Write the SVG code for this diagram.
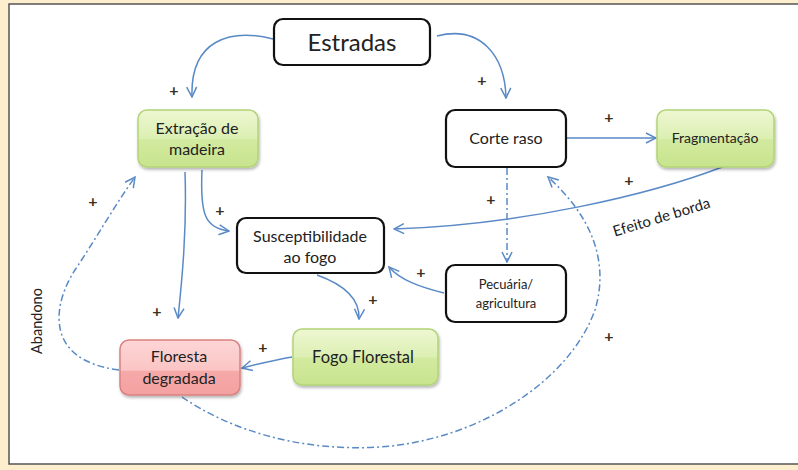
<svg xmlns="http://www.w3.org/2000/svg" width="798" height="470" viewBox="0 0 798 470">
<defs>
<linearGradient id="gGreen" x1="0" y1="0" x2="0" y2="1">
<stop offset="0" stop-color="#eef7d2"/>
<stop offset="0.5" stop-color="#dcefb2"/>
<stop offset="0.52" stop-color="#d2ea9f"/>
<stop offset="1" stop-color="#c8e48e"/>
</linearGradient>
<linearGradient id="gRed" x1="0" y1="0" x2="0" y2="1">
<stop offset="0" stop-color="#fdd6d6"/>
<stop offset="0.55" stop-color="#fbc4c4"/>
<stop offset="0.57" stop-color="#f6a9a9"/>
<stop offset="1" stop-color="#f4a0a0"/>
</linearGradient>
<filter id="sh" x="-10%" y="-10%" width="130%" height="140%">
<feGaussianBlur in="SourceAlpha" stdDeviation="1.5"/>
<feOffset dx="1" dy="2" result="b"/>
<feComponentTransfer><feFuncA type="linear" slope="0.3"/></feComponentTransfer>
<feMerge><feMergeNode/><feMergeNode in="SourceGraphic"/></feMerge>
</filter>
<marker id="arr" viewBox="0 0 12 12" refX="11" refY="6" markerWidth="12" markerHeight="12" markerUnits="userSpaceOnUse" orient="auto">
<path d="M1,1 L11,6 L1,11" fill="none" stroke="#5a8ac6" stroke-width="1.5"/>
</marker>
</defs>
<style>
text{font-family:Lato,"Open Sans","Liberation Sans",sans-serif;fill:#222;}
.blk{fill:#fff;stroke:#111;stroke-width:2.2;}
.grn{fill:url(#gGreen);stroke:#b2d477;stroke-width:1.5;}
.red{fill:url(#gRed);stroke:#d98280;stroke-width:1.5;}
.c{fill:none;stroke:#5a8ac6;stroke-width:1.5;marker-end:url(#arr);}
.d{stroke-dasharray:7 3 2 3;}
.pl{font-size:16px;font-weight:bold;fill:#3b3020;text-anchor:middle;}
.t14{font-size:16px;text-anchor:middle;}
</style>
<rect x="0" y="0" width="798" height="470" fill="#fdefcd"/>
<rect x="9" y="4" width="795" height="460" fill="#fff" stroke="#555" stroke-width="1.5"/>

<g id="connectors">
<path class="c" d="M273,39 C230,28 190,40 192,97"/>
<path class="c" d="M437,36 C480,25 505,55 506,98"/>
<path class="c" d="M567,138 L656,138"/>
<path class="c" d="M725,166 C650,195 520,225 394,229"/>
<path class="c" d="M185,172 C187,230 182,280 178,318"/>
<path class="c" d="M202,170 C200,215 205,228 229,231"/>
<path class="c" d="M317,275 C345,285 360,300 359,319"/>
<path class="c" d="M444,293 C420,287 400,280 389,267"/>
<path class="c" d="M292,357 C275,360 258,364 242,368"/>
<path class="c d" d="M507,168 L507,262"/>
<path class="c d" d="M119,370 C40,360 55,300 75,270 C95,240 115,205 135,177"/>
<path class="c d" d="M182,397 C230,430 300,452 380,447 C480,440 570,380 595,310 C610,260 590,215 548,177"/>
</g>

<g id="n-estradas">
<rect class="blk" x="274" y="19" width="156" height="46" rx="9"/>
<text x="352" y="51" font-size="24" text-anchor="middle">Estradas</text>
</g>
<g id="n-extracao">
<rect class="grn" x="138" y="110" width="120" height="57" rx="9" filter="url(#sh)"/>
<text class="t14" x="197" y="134">Extração de</text>
<text class="t14" x="197" y="155">madeira</text>
</g>
<g id="n-corte">
<rect class="blk" x="446" y="110" width="120" height="57" rx="9"/>
<text class="t14" x="506" y="144">Corte raso</text>
</g>
<g id="n-fragmentacao">
<rect class="grn" x="657" y="110" width="117" height="57" rx="9" filter="url(#sh)"/>
<text x="715" y="143" font-size="14" text-anchor="middle" fill="#1e2a10">Fragmentação</text>
</g>
<g id="n-susceptibilidade">
<rect class="blk" x="237" y="218" width="147" height="55" rx="9"/>
<text class="t14" x="310" y="242">Susceptibilidade</text>
<text class="t14" x="310" y="263">ao fogo</text>
</g>
<g id="n-pecuaria">
<rect class="blk" x="446" y="265" width="120" height="57" rx="9"/>
<text x="506" y="289" font-size="13" text-anchor="middle">Pecuária/</text>
<text x="506" y="308" font-size="13" text-anchor="middle">agricultura</text>
</g>
<g id="n-fogo">
<rect class="grn" x="293" y="329" width="145" height="56" rx="9" filter="url(#sh)"/>
<text x="363" y="363" font-size="16.5" text-anchor="middle">Fogo Florestal</text>
</g>
<g id="n-floresta">
<rect class="red" x="120" y="340" width="120" height="55" rx="9" filter="url(#sh)"/>
<text class="t14" x="179" y="362">Floresta</text>
<text class="t14" x="179" y="384">degradada</text>
</g>

<g id="labels">
<text class="pl" x="174" y="96">+</text>
<text class="pl" x="482" y="86">+</text>
<text class="pl" x="609" y="123">+</text>
<text class="pl" x="629" y="186">+</text>
<text class="pl" x="491" y="205">+</text>
<text class="pl" x="93" y="207">+</text>
<text class="pl" x="220" y="216">+</text>
<text class="pl" x="421" y="278">+</text>
<text class="pl" x="373" y="305">+</text>
<text class="pl" x="157" y="317">+</text>
<text class="pl" x="263" y="353">+</text>
<text class="pl" x="609" y="342">+</text>
<text x="663" y="222" font-size="15" text-anchor="middle" transform="rotate(-17 663 222)">Efeito de borda</text>
<text x="42" y="321" font-size="14.5" text-anchor="middle" transform="rotate(-90 42 321)">Abandono</text>
</g>
</svg>
